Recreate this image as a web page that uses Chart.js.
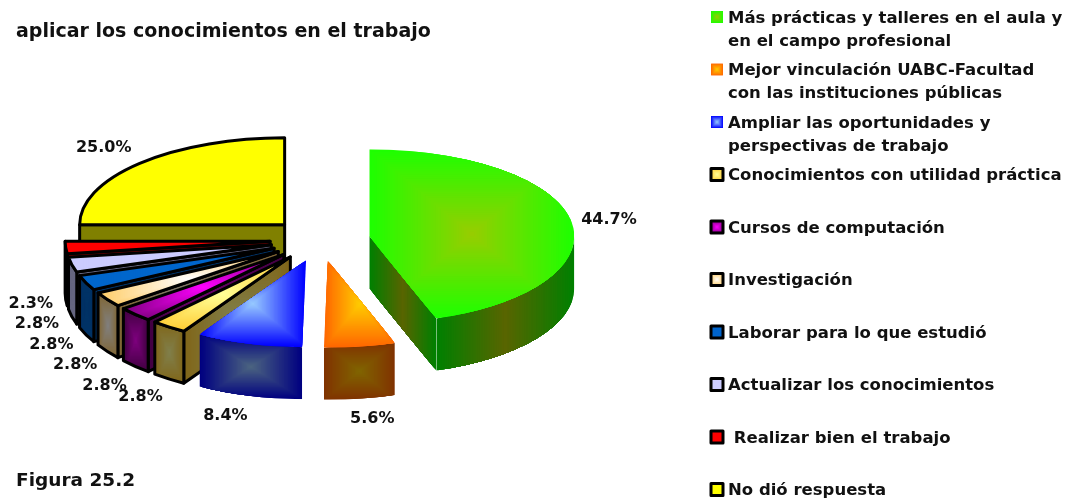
<!DOCTYPE html>
<html>
<head>
<meta charset="utf-8">
<script src="https://cdn.jsdelivr.net/npm/chart.js@4"></script>
<style>
  body { margin: 0; background: #fff; }
  canvas { display: block; }
</style>
</head>
<body>
<canvas id="grafica" width="1066" height="500"></canvas>
<script>
const categorias = [
  ["Más prácticas y talleres en el aula y", "en el campo profesional"],
  ["Mejor vinculación UABC-Facultad", "con las instituciones públicas"],
  ["Ampliar las oportunidades y", "perspectivas de trabajo"],
  ["Conocimientos con utilidad práctica"],
  ["Cursos de computación"],
  ["Investigación"],
  ["Laborar para lo que estudió"],
  ["Actualizar los conocimientos"],
  [" Realizar bien el trabajo"],
  ["No dió respuesta"]
];
const valores = [44.7, 5.6, 8.4, 2.8, 2.8, 2.8, 2.8, 2.8, 2.3, 25.0];
const titulo = "aplicar los conocimientos en el trabajo";
const figura = "Figura 25.2";

// colores: centro y borde del degradado, cara superior y pared
const caraCentro = ["#99cc00", "#ffcc00", "#99ccff", "#ffff99", "#ff00ff", "#ffffff", "#0066cc", "#ccccff", "#ff0000", "#ffff00"];
const caraBorde = ["#1eff00", "#ff6600", "#0000ff", "#ffcc33", "#800080", "#ffcc66", "#0066cc", "#ccccff", "#ff0000", "#ffff00"];
const paredCentro = ["#5a6400", "#806600", "#4d6680", "#80804d", "#800080", "#808080", "#003366", "#666680", "#800000", "#808000"];
const paredBorde = ["#008000", "#803300", "#000080", "#806619", "#400040", "#806633", "#003366", "#666680", "#800000", "#808000"];
const bordes = [0, 0, 0, 3, 3, 3, 3, 3, 3, 3];

// ajuste fino de las etiquetas de porcentaje, en pixeles
const etiquetaDx = [-3, 6, -12, -4, -1, 2, 3, 5, 6, -7];
const etiquetaDy = [1, 3, 3, 4, 7, 4, 3, 3, 3, -3];

const fuente = '"DejaVu Sans", Verdana, sans-serif';
const aplastar = 87 / 205;
const alto = 52;

function rgb(hex) {
  return [1, 3, 5].map(i => parseInt(hex.substr(i, 2), 16));
}

// degradado rectangular desde el centro de la caja, hay que recortar antes
function degradado(ctx, x0, y0, x1, y1, centro, borde, plano) {
  const a = rgb(borde), b = rgb(centro);
  const cx = (x0 + x1) / 2, cy = (y0 + y1) / 2;
  const w = (x1 - x0) / 2, h = (y1 - y0) / 2;
  const pasos = 40;
  for (let i = 0; i < pasos; i++) {
    const t = i / pasos;
    ctx.fillStyle = `rgb(${a.map((v, j) => Math.round(v + (b[j] - v) * t)).join(",")})`;
    const hh = plano ? h + 1 : h * (1 - t);
    ctx.fillRect(cx - w * (1 - t), cy - hh, 2 * w * (1 - t), 2 * hh);
  }
}

function caja(puntos) {
  const xs = puntos.map(p => p[0]), ys = puntos.map(p => p[1]);
  return [Math.min(...xs), Math.min(...ys), Math.max(...xs), Math.max(...ys)];
}

function pintar(ctx, trazo, puntos, centro, borde, ancho, plano) {
  const [x0, y0, x1, y1] = caja(puntos);
  ctx.save();
  ctx.beginPath();
  trazo();
  ctx.closePath();
  ctx.clip();
  degradado(ctx, x0, y0, x1, y1, centro, borde, plano);
  ctx.restore();
  if (ancho > 0) {
    ctx.beginPath();
    trazo();
    ctx.closePath();
    ctx.lineWidth = ancho;
    ctx.lineJoin = "round";
    ctx.strokeStyle = "#000";
    ctx.stroke();
  }
}

function vertice(arc) {
  const medio = (arc.startAngle + arc.endAngle) / 2;
  const px = arc.x + Math.cos(medio) * arc.options.offset;
  const py = arc.y + Math.sin(medio) * arc.options.offset * aplastar;
  return [px, py];
}

function dibujarPorcion(ctx, arc, i) {
  const [px, py] = vertice(arc);
  const rx = arc.outerRadius, ry = rx * aplastar;
  const a0 = arc.startAngle, a1 = arc.endAngle;
  const ancho = arc.options.borderWidth;
  const plano = i === 0;
  const borde = a => [px + Math.cos(a) * rx, py + Math.sin(a) * ry];

  const pared = a => {
    const q = borde(a);
    const trazo = () => {
      ctx.moveTo(px, py);
      ctx.lineTo(q[0], q[1]);
      ctx.lineTo(q[0], q[1] + alto);
      ctx.lineTo(px, py + alto);
    };
    pintar(ctx, trazo, [[px, py], q, [q[0], q[1] + alto], [px, py + alto]], paredCentro[i], paredBorde[i], ancho, plano);
  };
  if (Math.cos(a0) < -0.05) pared(a0);
  if (Math.cos(a1) > 0.05) pared(a1);

  // pared curva, solo la parte de enfrente
  const f0 = Math.max(a0, 0), f1 = Math.min(a1, Math.PI);
  if (f1 > f0) {
    const muestras = [];
    for (let k = 0; k <= 24; k++) {
      const q = borde(f0 + (f1 - f0) * k / 24);
      muestras.push(q, [q[0], q[1] + alto]);
    }
    const trazo = () => {
      ctx.ellipse(px, py, rx, ry, 0, f0, f1);
      ctx.ellipse(px, py + alto, rx, ry, 0, f1, f0, true);
    };
    pintar(ctx, trazo, muestras, paredCentro[i], paredBorde[i], ancho, plano);
  }

  // cara de arriba
  const puntos = [[px, py]];
  for (let k = 0; k <= 24; k++) puntos.push(borde(a0 + (a1 - a0) * k / 24));
  const trazo = () => {
    ctx.moveTo(px, py);
    ctx.ellipse(px, py, rx, ry, 0, a0, a1);
  };
  pintar(ctx, trazo, puntos, caraCentro[i], caraBorde[i], ancho, false);
}

function dibujarEtiqueta(ctx, arc, i) {
  const [px, py] = vertice(arc);
  const medio = (arc.startAngle + arc.endAngle) / 2;
  const x = px + Math.cos(medio) * arc.outerRadius * 1.2;
  let y = py + Math.sin(medio) * arc.outerRadius * aplastar * 1.2;
  if (Math.sin(medio) > 0) y += alto;
  ctx.fillStyle = "#111";
  ctx.font = `bold 16px ${fuente}`;
  ctx.textAlign = "center";
  ctx.textBaseline = "middle";
  ctx.fillText(valores[i].toFixed(1) + "%", x + etiquetaDx[i], y + etiquetaDy[i]);
}

function dibujarLeyenda(ctx) {
  ctx.font = `bold 16.5px ${fuente}`;
  ctx.textAlign = "left";
  ctx.textBaseline = "middle";
  categorias.forEach((lineas, i) => {
    const y = 17 + i * 52.5;
    const trazo = () => ctx.rect(717 - 6, y - 6, 12, 12);
    pintar(ctx, trazo, [[711, y - 6], [723, y + 6]], caraCentro[i], caraBorde[i], bordes[i]);
    ctx.fillStyle = "#111";
    lineas.forEach((texto, j) => ctx.fillText(texto, 728, y + 1.5 + j * 23));
  });
}

const pastel3d = {
  id: "pastel3d",
  beforeDatasetDraw(chart) {
    const ctx = chart.ctx;
    const arcos = chart.getDatasetMeta(0).data;
    const orden = arcos.map((a, i) => i).sort((p, q) => {
      const mp = (arcos[p].startAngle + arcos[p].endAngle) / 2;
      const mq = (arcos[q].startAngle + arcos[q].endAngle) / 2;
      return Math.sin(mp) - Math.sin(mq);
    });
    orden.forEach(i => dibujarPorcion(ctx, arcos[i], i));
    arcos.forEach((a, i) => dibujarEtiqueta(ctx, a, i));
    dibujarLeyenda(ctx);
    return false;
  }
};

new Chart(document.getElementById("grafica"), {
  type: "pie",
  data: {
    labels: categorias.map(l => l.join(" ")),
    datasets: [{
      data: valores,
      backgroundColor: caraBorde,
      borderColor: "#000",
      borderWidth: bordes,
      offset: 50
    }]
  },
  options: {
    responsive: false,
    animation: false,
    radius: 205,
    layout: { padding: { left: 16, right: 442, top: 0, bottom: 0 } },
    plugins: {
      legend: { display: false },
      tooltip: { enabled: false },
      title: {
        display: true,
        text: titulo,
        align: "start",
        color: "#111",
        font: { family: fuente, size: 19, weight: "bold" },
        padding: { top: 21, bottom: 0 }
      },
      subtitle: {
        display: true,
        text: figura,
        position: "bottom",
        align: "start",
        color: "#111",
        font: { family: fuente, size: 18.5, weight: "bold" },
        padding: { top: 34, bottom: 8 }
      }
    }
  },
  plugins: [pastel3d]
});
</script>
</body>
</html>
